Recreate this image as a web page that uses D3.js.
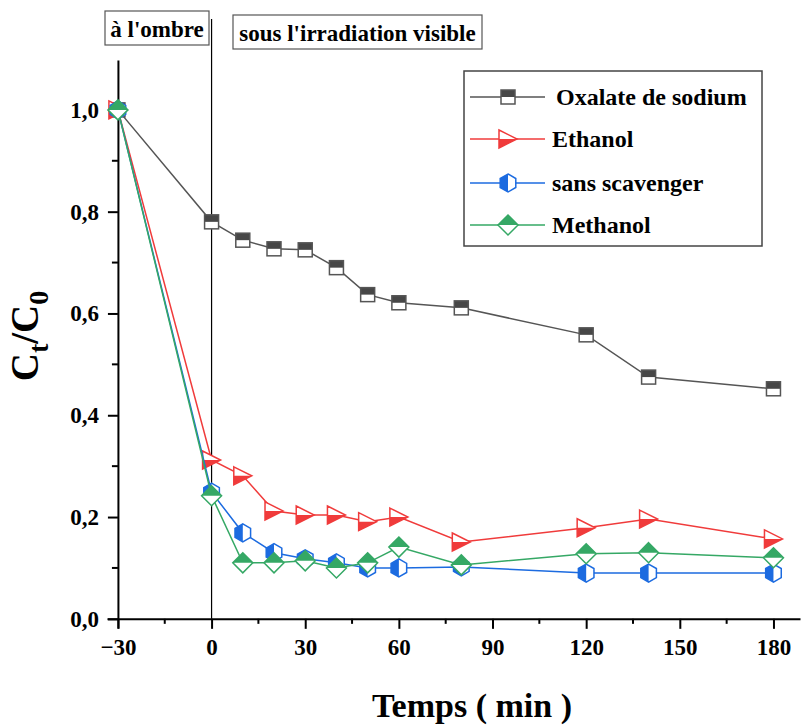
<!DOCTYPE html>
<html>
<head>
<meta charset="utf-8">
<script src="https://cdn.jsdelivr.net/npm/d3@7"></script>
<style>
  body { margin: 0; background: #fff; }
  svg { font-family: "Liberation Serif", "Times New Roman", serif; font-weight: bold; }
</style>
</head>
<body>
<div id="chart"></div>
<script>
// time in minutes (negative = dark phase)
const times = [-30, 0, 10, 20, 30, 40, 50, 60, 80, 120, 140, 180];

const oxalate = [1.0, 0.780, 0.744, 0.727, 0.725, 0.690, 0.637, 0.621, 0.611, 0.558, 0.475, 0.452];
const ethanol = [1.0, 0.312, 0.281, 0.212, 0.204, 0.204, 0.191, 0.200, 0.151, 0.179, 0.196, 0.157];
const sansScav = [1.0, 0.249, 0.169, 0.130, 0.118, 0.110, 0.100, 0.100, 0.102, 0.090, 0.090, 0.090];
const methanol = [1.0, 0.242, 0.110, 0.110, 0.114, 0.100, 0.110, 0.141, 0.106, 0.128, 0.130, 0.120];

const seriesNames = ["Oxalate de sodium", "Ethanol", "sans scavenger", "Methanol"];
const xTicks = [-30, 0, 30, 60, 90, 120, 150, 180];
const yTicks = [0, 0.2, 0.4, 0.6, 0.8, 1.0];

const series = [
  {name: seriesNames[0], values: oxalate, color: "#555555", fill: "#474747", shape: "square"},
  {name: seriesNames[1], values: ethanol, color: "#f03b3b", fill: "#f03b3b", shape: "triangle"},
  {name: seriesNames[2], values: sansScav, color: "#1c6be0", fill: "#1c6be0", shape: "hexagon"},
  {name: seriesNames[3], values: methanol, color: "#35a865", fill: "#35a865", shape: "diamond"}
];

const width = 804, height = 728;
const svg = d3.select("#chart").append("svg")
  .attr("width", width).attr("height", height);

const x = d3.scaleLinear().domain([-33.5, 188.5]).range([107, 800]);
const y = d3.scaleLinear().domain([-0.018, 1.098]).range([628, 60]);

// axes
const fmtY = d => d3.format(".1f")(d).replace(".", ",");
const fmtX = d => d < 0 ? "\u2212" + Math.abs(d) : d;

const xMinor = d3.range(-15, 181, 30);
const yMinor = d3.range(0.1, 1.01, 0.2);

const xAxisG = svg.append("g").attr("transform", `translate(0,${y(0)})`);
xAxisG.call(d3.axisBottom(x).tickValues(xTicks).tickFormat(fmtX).tickSize(10).tickSizeOuter(0).tickPadding(10));
xAxisG.append("g").selectAll("line").data(xMinor).join("line")
  .attr("x1", d => x(d)).attr("x2", d => x(d)).attr("y1", 0).attr("y2", 5)
  .attr("stroke", "#000").attr("stroke-width", 2);

const yAxisG = svg.append("g").attr("transform", `translate(${x(-30)},0)`);
yAxisG.call(d3.axisLeft(y).tickValues(yTicks).tickFormat(fmtY).tickSize(10).tickSizeOuter(0).tickPadding(9));
yAxisG.append("g").selectAll("line").data(yMinor).join("line")
  .attr("y1", d => y(d)).attr("y2", d => y(d)).attr("x1", 0).attr("x2", -6)
  .attr("stroke", "#000").attr("stroke-width", 2);

svg.selectAll(".domain").attr("stroke-width", 2);
svg.selectAll(".tick line").attr("stroke-width", 2);
svg.selectAll(".tick text")
  .style("font-family", "'Liberation Serif', serif")
  .style("font-weight", "bold")
  .style("font-size", "23px")
  .attr("fill", "#000");

// vertical separator at t = 0
svg.append("line")
  .attr("x1", x(0)).attr("x2", x(0)).attr("y1", 19).attr("y2", y(0))
  .attr("stroke", "#000").attr("stroke-width", 1.2);

// phase labels
function boxLabel(txt, bx, by, bw, bh, baseY) {
  const g = svg.append("g");
  g.append("rect").attr("x", bx).attr("y", by).attr("width", bw).attr("height", bh)
    .attr("fill", "#fff").attr("stroke", "#555").attr("stroke-width", 1.2);
  g.append("text").attr("x", bx + bw / 2).attr("y", baseY)
    .attr("text-anchor", "middle")
    .style("font-size", "23px").text(txt);
}
boxLabel("à l'ombre", 105, 11, 104, 34, 37);
boxLabel("sous l'irradiation visible", 233, 15, 249, 34, 41);

// marker drawing
function drawMarker(g, shape, color, fill) {
  if (shape === "square") {
    const s = 7;
    g.append("rect").attr("x", -s).attr("y", -s).attr("width", 2 * s).attr("height", 2 * s)
      .attr("fill", "#fff");
    g.append("rect").attr("x", -s).attr("y", -s).attr("width", 2 * s).attr("height", s)
      .attr("fill", fill);
    g.append("rect").attr("x", -s).attr("y", -s).attr("width", 2 * s).attr("height", 2 * s)
      .attr("fill", "none").attr("stroke", color).attr("stroke-width", 1.5);
  } else if (shape === "triangle") {
    const h = 9, s = 9;
    g.append("path").attr("d", `M${-h},${-s}L${h},0L${-h},${s}Z`).attr("fill", "#fff");
    g.append("path").attr("d", `M${-h},0L${h},0L${-h},${s}Z`).attr("fill", fill);
    g.append("path").attr("d", `M${-h},${-s}L${h},0L${-h},${s}Z`)
      .attr("fill", "none").attr("stroke", color).attr("stroke-width", 1.5);
  } else if (shape === "hexagon") {
    const r = 9, c = r * Math.cos(Math.PI / 6);
    const full = `M0,${-r}L${c},${-r / 2}L${c},${r / 2}L0,${r}L${-c},${r / 2}L${-c},${-r / 2}Z`;
    g.append("path").attr("d", full).attr("fill", "#fff");
    g.append("path").attr("d", `M0,${-r}L0,${r}L${-c},${r / 2}L${-c},${-r / 2}Z`).attr("fill", fill);
    g.append("path").attr("d", full).attr("fill", "none").attr("stroke", color).attr("stroke-width", 1.5);
  } else if (shape === "diamond") {
    const s = 10;
    const full = `M0,${-s}L${s},0L0,${s}L${-s},0Z`;
    g.append("path").attr("d", full).attr("fill", "#fff");
    g.append("path").attr("d", `M${-s},0L0,${-s}L${s},0Z`).attr("fill", fill);
    g.append("path").attr("d", full).attr("fill", "none").attr("stroke", color).attr("stroke-width", 1.5);
  }
}

const line = d3.line().x(d => x(d[0])).y(d => y(d[1]));

series.forEach(s => {
  const pts = times.map((t, i) => [t, s.values[i]]);
  const g = svg.append("g");
  g.append("path").datum(pts).attr("d", line)
    .attr("fill", "none").attr("stroke", s.color).attr("stroke-width", 1.5);
  pts.forEach(p => {
    const m = g.append("g").attr("transform", `translate(${x(p[0])},${y(p[1])})`);
    drawMarker(m, s.shape, s.color, s.fill);
  });
});

// legend
const legend = svg.append("g");
legend.append("rect").attr("x", 464).attr("y", 71).attr("width", 298).attr("height", 175)
  .attr("fill", "#fff").attr("stroke", "#444").attr("stroke-width", 1.5);
const legY = [97, 139, 183, 225];
series.forEach((s, i) => {
  const g = legend.append("g").attr("transform", `translate(0,${legY[i]})`);
  g.append("line").attr("x1", 470).attr("x2", 545).attr("y1", 0).attr("y2", 0)
    .attr("stroke", s.color).attr("stroke-width", 1.5);
  const m = g.append("g").attr("transform", "translate(508,0)");
  drawMarker(m, s.shape, s.color, s.fill);
  g.append("text").attr("x", i === 0 ? 556 : 552).attr("y", 0).attr("dy", "0.35em")
    .style("font-size", "24px").text(s.name);
});

// axis titles
const yTitle = svg.append("text")
  .attr("transform", "translate(38,336) rotate(-90)")
  .attr("text-anchor", "middle")
  .style("font-size", "39px");
yTitle.append("tspan").text("C");
yTitle.append("tspan").attr("dy", 10).style("font-size", "28px").text("t");
yTitle.append("tspan").attr("dy", -10).text("/C");
yTitle.append("tspan").attr("dy", 10).style("font-size", "28px").text("0");

svg.append("text").attr("x", 472).attr("y", 717)
  .attr("text-anchor", "middle").style("font-size", "34px").text("Temps ( min )");
</script>
</body>
</html>
